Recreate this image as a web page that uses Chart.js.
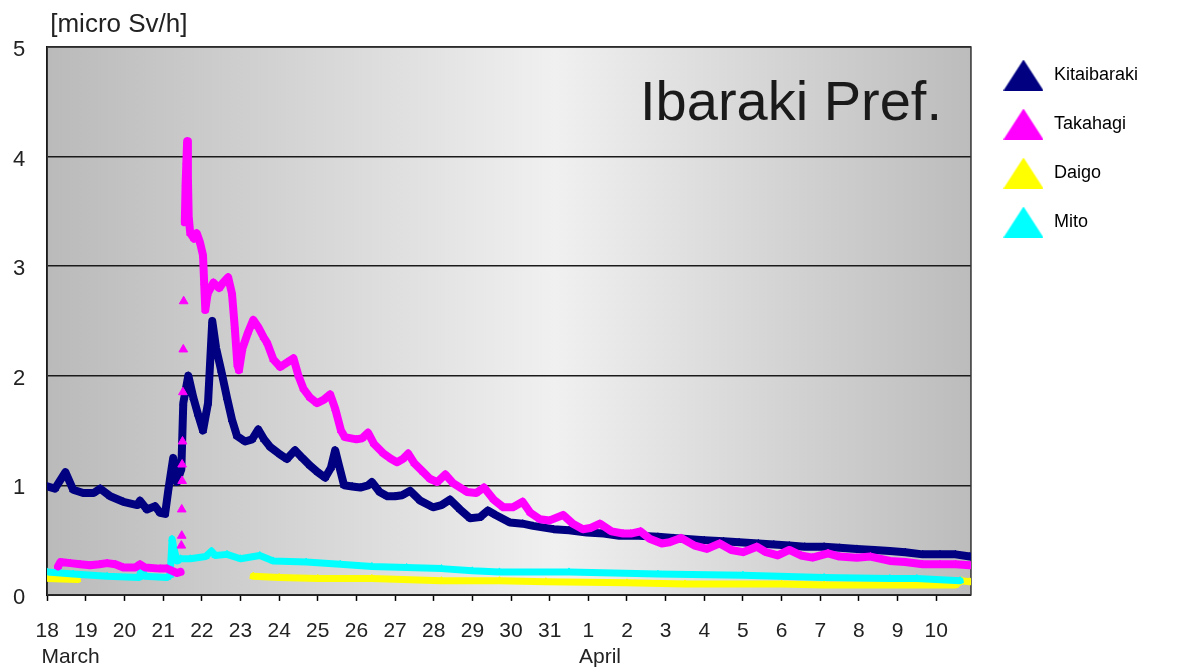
<!DOCTYPE html>
<html>
<head>
<meta charset="utf-8">
<title>Ibaraki Pref.</title>
<script src="https://cdn.jsdelivr.net/npm/chart.js@4.4.1/dist/chart.umd.min.js"></script>
<style>
  html, body { margin: 0; padding: 0; background: #fff; }
  #wrap { position: relative; width: 1178px; height: 670px; }
</style>
</head>
<body>
<div id="wrap"><canvas id="chart"></canvas></div>
<script>
/* Ibaraki Pref. — air dose rate, 18 March to 10 April
   x values are days counted from 18 March 00:00 */
(function () {
  'use strict';

  var DAY_LABELS = ['18', '19', '20', '21', '22', '23', '24', '25', '26', '27', '28', '29', '30', '31',
                    '1', '2', '3', '4', '5', '6', '7', '8', '9', '10'];
  var MONTH_AT = [0, 14];
  var MONTH_NAMES = ['March', 'April'];
  var Y_TICKS = [0, 1, 2, 3, 4, 5];

  var STATIONS = ['Kitaibaraki', 'Takahagi', 'Daigo', 'Mito'];
  var COLORS = ['#000080', '#ff00ff', '#ffff00', '#00ffff'];

  var kitaDays = [0, 0.2, 0.47, 0.67, 0.93, 1.2, 1.37, 1.63, 1.97, 2.33, 2.4, 2.58, 2.79, 2.92, 3.05,
    3.13, 3.26, 3.36, 3.47, 3.52, 3.65, 3.78, 3.9, 4.03, 4.16, 4.27, 4.37, 4.5, 4.65, 4.78,
    4.91, 5.12, 5.3, 5.46, 5.61, 5.77, 6.03, 6.2, 6.41, 6.6, 6.8, 7.0, 7.19, 7.34, 7.45,
    7.55, 7.68, 7.89, 8.1, 8.3, 8.4, 8.6, 8.8, 9.0, 9.18, 9.39, 9.65, 9.98, 10.2, 10.42,
    10.68, 10.94, 11.2, 11.4, 11.6, 11.97, 12.3, 12.57, 13.1, 13.5, 13.96, 14.4, 14.8, 15.3, 15.8,
    16.2, 16.55, 17.0, 17.5, 17.9, 18.4, 18.8, 19.2, 19.6, 20.1, 20.5, 20.95, 21.4, 21.8, 22.2,
    22.65, 23.1, 23.5, 23.87];
  var kitaVals = [0.99, 0.97, 1.12, 0.96, 0.93, 0.93, 0.97, 0.90, 0.85, 0.82, 0.86, 0.78, 0.81, 0.75, 0.74,
    0.95, 1.25, 1.03, 1.15, 1.75, 2.0, 1.80, 1.65, 1.50, 1.75, 2.50, 2.25, 2.05, 1.80, 1.60,
    1.45, 1.40, 1.42, 1.51, 1.42, 1.35, 1.28, 1.24, 1.32, 1.25, 1.18, 1.12, 1.07, 1.16, 1.32,
    1.18, 1.0, 0.99, 0.98, 1.0, 1.03, 0.94, 0.90, 0.90, 0.91, 0.95, 0.86, 0.80, 0.82, 0.87,
    0.78, 0.70, 0.71, 0.77, 0.73, 0.66, 0.65, 0.63, 0.60, 0.59, 0.57, 0.56, 0.54, 0.54, 0.53,
    0.52, 0.51, 0.50, 0.49, 0.48, 0.47, 0.46, 0.45, 0.44, 0.44, 0.43, 0.42, 0.41, 0.40, 0.39,
    0.37, 0.37, 0.37, 0.35];

  var takaDays = [0.28, 0.34, 0.6, 0.85, 1.11, 1.35, 1.55, 1.76, 1.97, 2.28, 2.4, 2.53, 2.92, 3.1, 3.23,
    3.36, 3.45, 3.5, 3.56, 3.58, 3.6, 3.62, 3.64, 3.66, 3.7, 3.8, 3.87, 3.95, 4.03, 4.06,
    4.09, 4.15, 4.3, 4.45, 4.55, 4.68, 4.78, 4.85, 4.92, 4.96, 5.05, 5.2, 5.33, 5.45, 5.6,
    5.69, 5.85, 6.03, 6.2, 6.37, 6.5, 6.63, 6.8, 6.98, 7.15, 7.32, 7.45, 7.6, 7.7, 8.0,
    8.15, 8.3, 8.45, 8.7, 8.9, 9.05, 9.2, 9.34, 9.5, 9.73, 9.9, 10.09, 10.3, 10.5, 10.86,
    11.1, 11.3, 11.55, 11.8, 12.05, 12.3, 12.5, 12.75, 13.0, 13.35, 13.6, 13.86, 14.05, 14.3, 14.6,
    14.9, 15.1, 15.35, 15.6, 15.9, 16.1, 16.4, 16.75, 17.07, 17.4, 17.7, 18.0, 18.36, 18.6, 18.9,
    19.2, 19.5, 19.8, 20.2, 20.5, 20.95, 21.3, 21.8, 22.2, 22.65, 23.1, 23.5, 23.87];
  var takaVals = [0.26, 0.30, 0.29, 0.28, 0.27, 0.28, 0.29, 0.28, 0.25, 0.25, 0.28, 0.25, 0.24, 0.24, 0.22,
    0.20, 0.21, null, 3.40, 3.75, 3.95, 4.14, 3.80, 3.45, 3.30, 3.25, 3.30, 3.22, 3.10, 2.85,
    2.60, 2.75, 2.85, 2.80, 2.85, 2.90, 2.75, 2.45, 2.10, 2.05, 2.25, 2.40, 2.51, 2.45, 2.35,
    2.30, 2.15, 2.08, 2.12, 2.16, 2.00, 1.88, 1.80, 1.75, 1.78, 1.83, 1.70, 1.50, 1.44, 1.42,
    1.43, 1.48, 1.38, 1.29, 1.24, 1.21, 1.24, 1.29, 1.20, 1.12, 1.06, 1.03, 1.10, 1.02, 0.94,
    0.93, 0.98, 0.87, 0.80, 0.80, 0.85, 0.75, 0.69, 0.68, 0.73, 0.65, 0.60, 0.61, 0.65, 0.58,
    0.56, 0.56, 0.58, 0.51, 0.47, 0.48, 0.52, 0.45, 0.42, 0.47, 0.41, 0.39, 0.44, 0.39, 0.36,
    0.41, 0.36, 0.34, 0.38, 0.35, 0.34, 0.35, 0.31, 0.30, 0.28, 0.28, 0.28, 0.27];
  // the sudden climb on the 21st: single readings, no line through them
  var takaRiseDays = [3.47, 3.48, 3.48, 3.49, 3.49, 3.5, 3.51, 3.52, 3.53];
  var takaRiseVals = [0.45, 0.54, 0.78, 1.04, 1.19, 1.40, 1.85, 2.24, 2.68];

  var daigoDays = [0, 0.78, 3.0, 5.33, 6.0, 7.0, 8.4, 10.2, 11.7, 12.9, 15.0, 16.5, 19.0, 20.1, 22.5,
    23.5, 23.65, 23.87];
  var daigoVals = [0.15, 0.14, null, 0.17, 0.16, 0.15, 0.15, 0.13, 0.13, 0.12, 0.11, 0.10, 0.10, 0.09, 0.09,
    0.09, 0.13, 0.12];

  var mitoDays = [0, 0.67, 1.55, 2.38, 2.45, 2.52, 3.1, 3.18, 3.23, 3.28, 3.36, 3.45, 3.7, 4.1, 4.25,
    4.35, 4.65, 5.0, 5.5, 5.85, 6.7, 7.58, 8.4, 9.3, 10.2, 11.0, 11.7, 13.5, 15.8, 18.0,
    20.1, 21.8, 22.5, 23.62];
  var mitoVals = [0.21, 0.19, 0.17, 0.16, 0.26, 0.17, 0.16, 0.18, 0.51, 0.42, 0.31, 0.33, 0.33, 0.35, 0.40,
    0.36, 0.37, 0.33, 0.36, 0.31, 0.30, 0.28, 0.26, 0.25, 0.24, 0.22, 0.21, 0.21, 0.19, 0.18,
    0.16, 0.15, 0.15, 0.13];

  function pairs(days, vals) {
    return days.map(function (d, i) { return { x: d, y: vals[i] }; });
  }

  function series(label, color, days, vals, order, width, showLine) {
    return {
      label: label,
      data: pairs(days, vals),
      borderColor: color,
      backgroundColor: color,
      borderWidth: width,
      borderJoinStyle: 'round',
      borderCapStyle: 'round',
      showLine: showLine,
      spanGaps: false,
      pointStyle: 'triangle',
      pointRadius: showLine ? 4 : 5,
      pointBorderWidth: 1,
      pointBorderColor: color,
      pointBackgroundColor: color,
      order: order
    };
  }

  function legendIcon(color) {
    var c = document.createElement('canvas');
    c.width = 40;
    c.height = 31;
    var g = c.getContext('2d');
    g.fillStyle = color;
    g.beginPath();
    g.moveTo(0, 31);
    g.lineTo(20, 0);
    g.lineTo(40, 31);
    g.closePath();
    g.fill();
    return c;
  }

  var FONT = '"Liberation Sans", Arial, Helvetica, sans-serif';
  Chart.defaults.font.family = FONT;

  // grey plot backdrop, frame and the two free texts
  var backdrop = {
    id: 'backdrop',
    beforeDraw: function (chart) {
      var a = chart.chartArea, ctx = chart.ctx;
      var g = ctx.createLinearGradient(a.left, 0, a.right, 0);
      g.addColorStop(0, '#bababa');
      g.addColorStop(0.55, '#f0f0f0');
      g.addColorStop(1, '#bcbcbc');
      ctx.save();
      ctx.fillStyle = g;
      ctx.fillRect(a.left, a.top, a.right - a.left, a.bottom - a.top);
      ctx.fillStyle = '#222';
      ctx.font = '26px ' + FONT;
      ctx.textBaseline = 'middle';
      ctx.textAlign = 'left';
      ctx.fillText('[micro Sv/h]', a.left + 3, a.top - 22);
      ctx.restore();
    },
    beforeDatasetsDraw: function (chart) {
      var a = chart.chartArea, ctx = chart.ctx;
      ctx.save();
      ctx.strokeStyle = '#333';
      ctx.lineWidth = 1.5;
      ctx.strokeRect(a.left, a.top, a.right - a.left, a.bottom - a.top);
      ctx.fillStyle = '#1a1a1a';
      ctx.font = '56px ' + FONT;
      ctx.textAlign = 'right';
      ctx.textBaseline = 'alphabetic';
      ctx.fillText('Ibaraki Pref.', a.right - 29, a.top + 73);
      ctx.restore();
    }
  };

  new Chart(document.getElementById('chart'), {
    type: 'line',
    data: {
      datasets: [
        series(STATIONS[0], COLORS[0], kitaDays, kitaVals, 1, 8, true),
        series(STATIONS[1], COLORS[1], takaDays, takaVals, 0, 8, true),
        series(STATIONS[2], COLORS[2], daigoDays, daigoVals, 3, 7, true),
        series(STATIONS[3], COLORS[3], mitoDays, mitoVals, 2, 7, true),
        series(STATIONS[1], COLORS[1], takaRiseDays, takaRiseVals, 0, 8, false)
      ]
    },
    options: {
      responsive: true,
      maintainAspectRatio: false,
      animation: false,
      // Chart.js reserves tick padding twice per axis; the negative values take that back
      layout: { padding: { left: -9, right: 30, top: 35, bottom: -17 } },
      plugins: {
        tooltip: { enabled: false },
        legend: {
          position: 'right',
          align: 'start',
          labels: {
            usePointStyle: true,
            pointStyleWidth: 43,
            padding: 31,
            color: '#111',
            font: { size: 18 },
            generateLabels: function () {
              return STATIONS.map(function (name, i) {
                return {
                  text: name,
                  datasetIndex: i,
                  pointStyle: legendIcon(COLORS[i]),
                  fillStyle: COLORS[i],
                  strokeStyle: COLORS[i],
                  lineWidth: 0,
                  hidden: false
                };
              });
            }
          }
        }
      },
      scales: {
        x: {
          type: 'linear',
          min: 0,
          max: 23.9,
          afterBuildTicks: function (axis) {
            axis.ticks = DAY_LABELS.map(function (d, i) { return { value: i }; });
          },
          afterFit: function (axis) {
            axis.paddingLeft = 0;
            axis.paddingRight = 0;
          },
          ticks: {
            autoSkip: false,
            maxRotation: 0,
            color: '#222',
            padding: 17,
            font: { size: 21, lineHeight: 1.24 },
            callback: function (value) {
              var i = Math.round(value);
              var m = MONTH_AT.indexOf(i);
              if (m < 0) return DAY_LABELS[i];
              var pad = i === 0 ? '        ' : '    ';
              return [DAY_LABELS[i], pad + MONTH_NAMES[m]];
            }
          },
          grid: { drawOnChartArea: false, drawTicks: true, tickLength: 6, tickColor: '#000', tickWidth: 1.5 },
          border: { color: '#000', width: 2 }
        },
        y: {
          min: 0,
          max: 5,
          afterBuildTicks: function (axis) {
            axis.ticks = Y_TICKS.map(function (v) { return { value: v }; });
          },
          afterFit: function (axis) { axis.paddingTop = 47; },
          ticks: { color: '#222', padding: 22, labelOffset: 3, font: { size: 22 } },
          grid: { color: '#1a1a1a', lineWidth: 1.5, drawTicks: false },
          border: { color: '#000', width: 2 }
        }
      }
    },
    plugins: [backdrop]
  });
}());
</script>
</body>
</html>
